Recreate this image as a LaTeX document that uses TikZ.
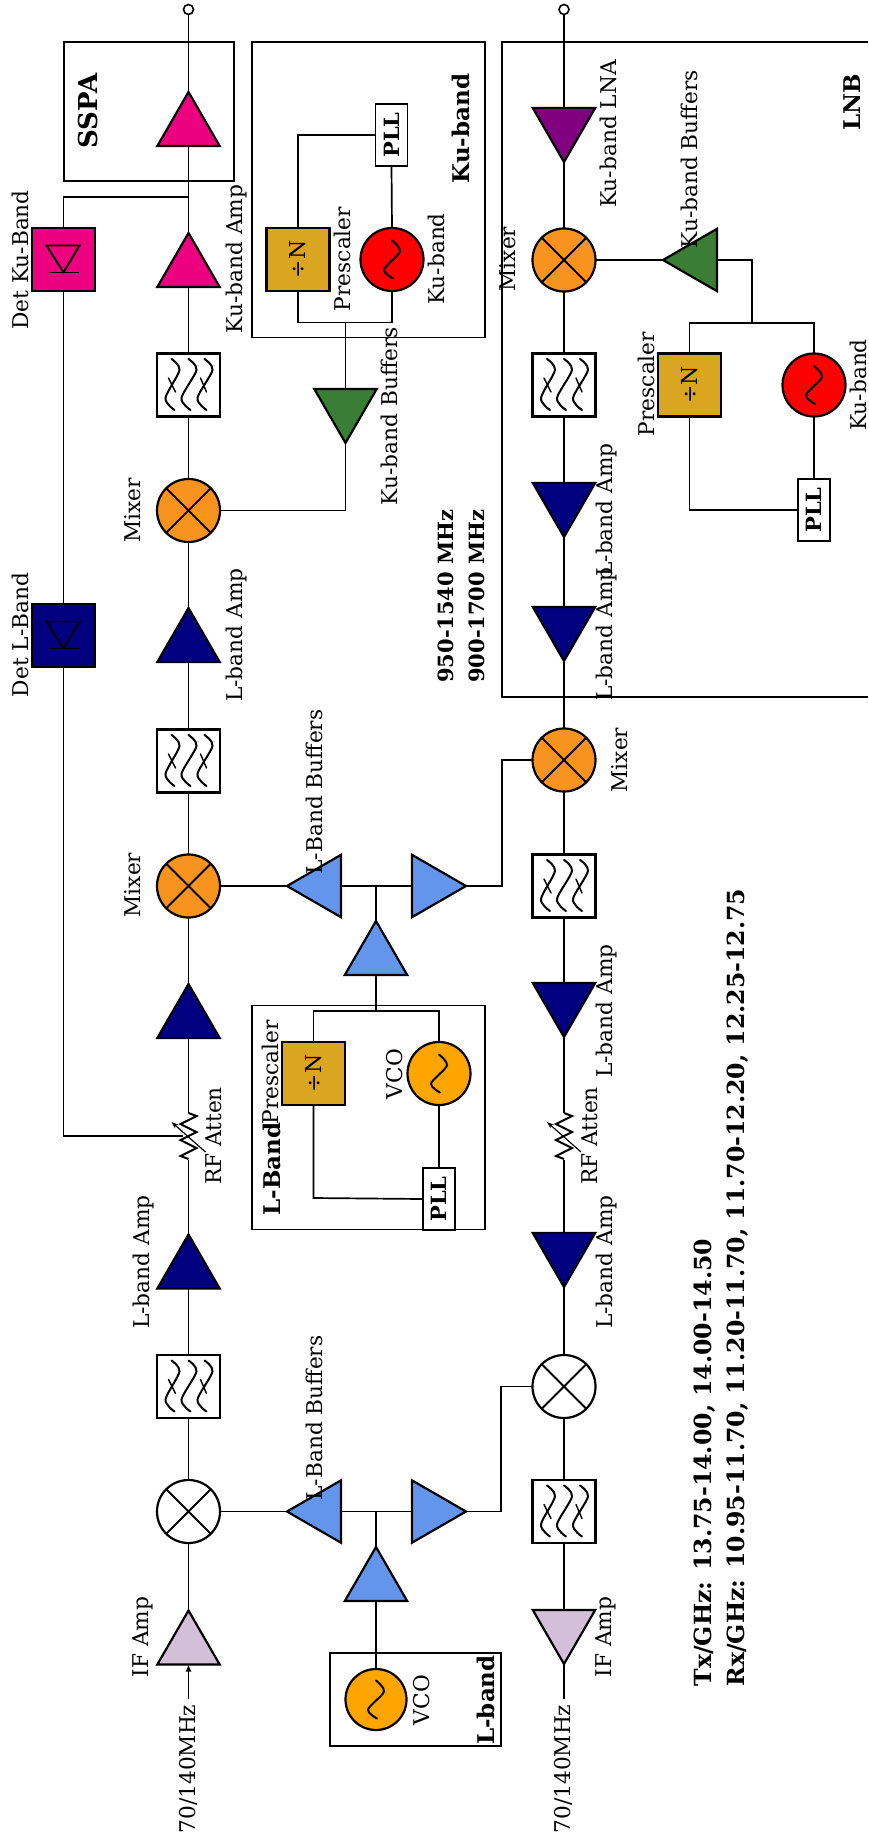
\documentclass[tikz,border=0pt]{standalone}
\usepackage{fontspec}
\usepackage{graphicx}
\setmainfont{DejaVu Serif}
\usetikzlibrary{shapes.geometric,arrows.meta}
\definecolor{cMag}{HTML}{EC0080}
\definecolor{cNavy}{HTML}{000080}
\definecolor{cMix}{HTML}{F7931E}
\definecolor{cGold}{HTML}{DAA520}
\definecolor{cBlue}{HTML}{6495ED}
\definecolor{cGreen}{HTML}{3A7D34}
\definecolor{cThistle}{HTML}{D4BFD8}
\definecolor{cPurple}{HTML}{800080}
\definecolor{cVco}{HTML}{FFA500}
\newcommand{\filtericon}{%
  \begin{scope}[shift={(path picture bounding box.center)},line width=2pt,line cap=round]
    \draw plot[smooth] coordinates {(-17,-26) (-9,-15) (-23,13) (-14,25)};
    \draw plot[smooth] coordinates {(0,-26) (8,-15) (-7,13) (2,25)};
    \draw plot[smooth] coordinates {(16,-26) (24,-15) (9,13) (18,25)};
    \draw[line width=1.4pt] (-20,-7) -- (-13,7);
    \draw[line width=1.4pt] (12,-7) -- (18,7);
  \end{scope}}
\newcommand{\oscicon}{%
  \draw[shift={(path picture bounding box.center)},line width=2pt,line cap=round]
    plot[smooth] coordinates {(0,-19) (8,-8) (-8,10) (1,19)};}
\newcommand{\diodeicon}{%
  \begin{scope}[shift={(path picture bounding box.center)},line width=1.9pt]
    \draw (-17,-14) -- (16,-14) -- (0,13) -- cycle;
    \draw (-15,13) -- (15,13);
  \end{scope}}
\newcommand{\mixicon}{%
  \draw[line width=2pt] (path picture bounding box.north west) -- (path picture bounding box.south east)
    (path picture bounding box.north east) -- (path picture bounding box.south west);}
\tikzset{
  x=1pt,y=-1pt,
  wire/.style={line width=1.7pt,line join=miter},
  frame/.style={draw,line width=1.6pt,fill=none,inner sep=0,outer sep=0},
  amp/.style={regular polygon,regular polygon sides=3,minimum size=72pt,inner sep=0,outer sep=0,draw,line width=2.2pt,fill=#1},
  ampup/.style={amp=#1},
  ampdown/.style={amp=#1,regular polygon rotate=180},
  ampleft/.style={amp=#1,regular polygon rotate=90},
  ampright/.style={amp=#1,regular polygon rotate=-90},
  mixer/.style={circle,minimum size=63pt,inner sep=0,outer sep=0,draw,line width=2.2pt,fill=#1,path picture={\mixicon}},
  osc/.style={circle,minimum size=63pt,inner sep=0,outer sep=0,draw,line width=2.2pt,fill=#1,path picture={\oscicon}},
  filterbox/.style={rectangle,minimum size=63pt,inner sep=0,outer sep=0,draw,line width=2.2pt,fill=white,path picture={\filtericon}},
  detbox/.style={rectangle,minimum size=63pt,inner sep=0,outer sep=0,draw,line width=2.2pt,fill=#1,path picture={\diodeicon}},
  prebox/.style={rectangle,minimum size=63pt,inner sep=0,outer sep=0,draw,line width=2.2pt,fill=cGold,font=\fontsize{22}{22}\selectfont},
  pllbox/.style={rectangle,minimum width=32pt,minimum height=62pt,inner sep=0,outer sep=0,draw,line width=1.6pt,fill=white,font=\fontsize{21}{21}\selectfont\bfseries},
  port/.style={circle,minimum size=10pt,inner sep=0,outer sep=0,draw,line width=1.6pt,fill=white},
  atten/.style={rectangle,minimum width=18pt,minimum height=47pt,inner sep=0,outer sep=0},
  lab/.style={rotate=90,inner sep=0,font=\fontsize{21.7}{24}\selectfont},
  blab/.style={rotate=90,inner sep=0,font=\fontsize{23}{26}\selectfont\bfseries},
  fsleft/.style={rotate=90,inner sep=0,anchor=west,font=\fontsize{#1}{26}\selectfont\bfseries},
}
\newcommand{\attenicon}[1]{%
  \draw[shift={(#1.center)},line width=2pt,line join=miter]
    (0,-23) -- (8,-20) -- (-8,-12) -- (8,-4) -- (-8,4) -- (8,12) -- (-8,20) -- (0,23);
  \draw[shift={(#1.center)},line width=1.2pt,-{Stealth[length=7pt,width=5pt]}] (17,16) -- (-17,-14);}
\begin{document}
\begin{tikzpicture}
\useasboundingbox (0,0) rectangle (868,1841);
% frames
\node[frame,minimum width=170pt,minimum height=139pt] (fSSPA) at (149,111.5) {};
\node[frame,minimum width=233pt,minimum height=295.5pt] (fKu) at (368.5,189.75) {};
\node[frame,minimum width=233pt,minimum height=224pt] (fLb) at (368.5,1117.5) {};
\node[frame,minimum width=170.5pt,minimum height=93pt] (fLc) at (415.5,1699.5) {};
\coordinate (lnbTL) at (868,42);
\coordinate (lnbA) at (502,42);
\coordinate (lnbB) at (502,697);
\coordinate (lnbBR) at (868,697);
\draw[wire] (lnbTL) -- (lnbA) -- (lnbB) -- (lnbBR);

% column 1
\node[port] (txOut) at (188.5,9.5) {};
\node[ampup=cMag] (a1) at (188.5,128) {};
\node[ampup=cMag] (a2) at (188.5,269) {};
\node[filterbox] (f1) at (188.5,385) {};
\node[mixer=cMix] (m1) at (188.5,510.5) {};
\node[ampup=cNavy] (a3) at (188.5,644) {};
\node[filterbox] (f2) at (188.5,761) {};
\node[mixer=cMix] (m2) at (188.5,886) {};
\node[ampup=cNavy] (a4) at (188.5,1020) {};
\node[atten] (at1) at (188.5,1136) {};
\node[ampup=cNavy] (a5) at (188.5,1270.5) {};
\node[filterbox] (f3) at (188.5,1386.5) {};
\node[mixer=white] (m3) at (188.5,1511.5) {};
\node[ampup=cThistle] (a6) at (188.5,1646.5) {};
\coordinate (txIn) at (188.5,1699);
\draw[wire] (txOut) -- (a1.corner 1) (a1.side 2) -- (a2.corner 1) (a2.side 2) -- (f1) -- (m1) -- (a3.corner 1)
  (a3.side 2) -- (f2) -- (m2) -- (a4.corner 1) (a4.side 2) -- (at1.north) (at1.south) -- (a5.corner 1)
  (a5.side 2) -- (f3) -- (m3) -- (a6.corner 1);
\draw[wire,-{Latex[length=7pt,width=6pt]}] (txIn) -- (a6.side 2);
\attenicon{at1}

% detectors
\node[detbox=cMag] (d1) at (63.5,259.5) {};
\node[detbox=cNavy,path picture={}] (d2) at (63.5,635.5) {};
\begin{scope}[shift={(d2.center)},line width=1.9pt]
  \draw (-17,-14) -- (16,-14) -- (0,13) -- cycle;
  \draw (-15,13) -- (15,13);
\end{scope}
\coordinate (tap) at (188.5,197);
\coordinate (tapL) at (63.5,197);
\coordinate (ctlC) at (63.5,1136);
\coordinate (ctlE) at (183,1136);
\draw[wire] (tap) -- (tapL) -- (d1) -- (d2) -- (ctlC) -- (ctlE);

% Ku-band synth (tx)
\node[prebox] (p1) at (298,259.5) {\rotatebox{90}{÷N}};
\node[osc=red] (o1) at (392,259.5) {};
\node[pllbox] (pll1) at (391.5,135) {\rotatebox{90}{PLL}};
\node[ampdown=cGreen] (g1) at (345.5,407) {};
\coordinate (k1) at (298,322.5);
\coordinate (k2) at (392,322.5);
\coordinate (k3) at (345.5,322.5);
\coordinate (k4) at (298,135);
\draw[wire] (p1.south) -- (k1) -- (k2) -- (o1.south);
\draw[wire] (k3) -- (g1.side 2);
\draw[wire] (g1.corner 1) |- (m1.east);
\draw[wire] (p1.north) -- (k4) -- (pll1.west);
\draw[wire] (o1.north) -- (pll1.south);

% L-band synth tx/rx split
\node[ampleft=cBlue] (b1) at (323,886) {};
\node[ampright=cBlue] (b2) at (430,886) {};
\node[ampup=cBlue] (b3) at (376,957) {};
\coordinate (j1) at (376,886);
\coordinate (j2) at (376,1011);
\draw[wire] (m2.east) -- (b1.corner 1);
\draw[wire] (b1.side 2) -- (b2.side 2);
\draw[wire] (j1) -- (b3.corner 1);
\draw[wire] (b3.side 2) -- (j2);
\node[prebox] (p2) at (313.5,1073.5) {\rotatebox{90}{÷N}};
\node[osc=cVco] (o2) at (439,1073.5) {};
\node[pllbox] (pll2) at (439,1199) {\rotatebox{90}{PLL}};
\coordinate (l1) at (313.5,1011);
\coordinate (l2) at (439,1011);
\coordinate (l3) at (313.5,1198);
\draw[wire] (p2.north) -- (l1) -- (l2) -- (o2.north);
\draw[wire] (p2.south) -- (l3) -- (pll2.west);
\draw[wire] (o2.south) -- (pll2.north);

% first L-band
\node[ampleft=cBlue] (b4) at (323,1511.5) {};
\node[ampright=cBlue] (b5) at (430,1511.5) {};
\node[ampup=cBlue] (b6) at (376,1583) {};
\node[osc=cVco,minimum size=61pt] (o3) at (376,1699.5) {};
\coordinate (j3) at (376,1511.5);
\draw[wire] (m3.east) -- (b4.corner 1);
\draw[wire] (b4.side 2) -- (b5.side 2);
\draw[wire] (j3) -- (b6.corner 1);
\draw[wire] (b6.side 2) -- (o3);

% column 2
\node[port] (rxIn) at (564,9.5) {};
\node[ampdown=cPurple] (r1) at (564,126) {};
\node[mixer=cMix] (r2) at (564,260) {};
\node[filterbox] (r3) at (564,385) {};
\node[ampdown=cNavy] (r4) at (564,501) {};
\node[ampdown=cNavy] (r5) at (564,625) {};
\node[mixer=cMix] (r6) at (564,760) {};
\node[filterbox] (r7) at (564,886) {};
\node[ampdown=cNavy] (r8) at (564,1001) {};
\node[atten] (at2) at (564,1136) {};
\node[ampdown=cNavy] (r9) at (564,1251) {};
\node[mixer=white] (r10) at (564,1386.5) {};
\node[filterbox] (r11) at (564,1511.5) {};
\node[ampdown=cThistle] (r12) at (564,1628) {};
\coordinate (rxOut) at (564,1699);
\draw[wire] (rxIn) -- (r1.side 2) (r1.corner 1) -- (r2) -- (r3) -- (r4.side 2) (r4.corner 1) -- (r5.side 2)
  (r5.corner 1) -- (r6) -- (r7) -- (r8.side 2) (r8.corner 1) -- (at2.north) (at2.south) -- (r9.side 2)
  (r9.corner 1) -- (r10) -- (r11) -- (r12.side 2) (r12.corner 1) -- (rxOut);
\attenicon{at2}
\coordinate (x1) at (502,886);
\coordinate (x2) at (502,760);
\draw[wire] (b2.corner 1) -- (x1) -- (x2) -- (r6.west);
\coordinate (x3) at (501,1511.5);
\coordinate (x4) at (501,1386.5);
\draw[wire] (b5.corner 1) -- (x3) -- (x4) -- (r10.west);

% LNB synth
\node[ampleft=cGreen] (g2) at (699,260) {};
\node[prebox] (p3) at (689.5,385) {\rotatebox{90}{÷N}};
\node[osc=red] (o4) at (814,385) {};
\node[pllbox] (pll3) at (814,510) {\rotatebox{90}{PLL}};
\coordinate (q1) at (752,260);
\coordinate (q2) at (752,323);
\coordinate (q3) at (689.5,323);
\coordinate (q4) at (814,323);
\coordinate (q5) at (689.5,510);
\draw[wire] (r2.east) -- (g2.corner 1);
\draw[wire] (g2.side 2) -- (q1) -- (q2);
\draw[wire] (p3.north) -- (q3) -- (q4) -- (o4.north);
\draw[wire] (p3.south) -- (q5) -- (pll3.west);
\draw[wire] (o4.south) -- (pll3.north);

% labels
\node[blab,font=\fontsize{26}{28}\selectfont\bfseries] (tSSPA) at (88,111) {SSPA};
\node[lab] (t1) at (20,260) {Det Ku-Band};
\node[lab] (t2) at (236.5,259) {Ku-band Amp};
\node[lab] (t3) at (342,259) {Prescaler};
\node[lab] (t4) at (436,259) {Ku-band};
\node[blab] (t5) at (461,128.5) {Ku-band};
\node[lab] (t6) at (389,416) {Ku-band Buffers};
\node[lab] (t7) at (133,510.5) {Mixer};
\node[lab] (t8) at (20,635) {Det L-Band};
\node[lab] (t9) at (237,635) {L-band Amp};
\node[lab] (t10) at (133,885) {Mixer};
\node[lab] (t11) at (314,792) {L-Band Buffers};
\node[lab] (t12) at (270,1072) {Prescaler};
\node[blab] (t13) at (272,1169) {L-Band};
\node[lab] (t14) at (395,1074) {VCO};
\node[lab] (t15) at (214,1136) {RF Atten};
\node[lab] (t16) at (143.5,1262) {L-band Amp};
\node[lab] (t17) at (143,1637) {IF Amp};
\node[lab] (t18) at (188,1769) {70/140MHz};
\node[lab] (t19) at (314,1418) {L-Band Buffers};
\node[lab] (t20) at (422,1700) {VCO};
\node[blab] (t21) at (486,1700) {L-band};
\node[lab] (t22) at (608,134) {Ku-band LNA};
\node[lab] (t23) at (689,159.5) {Ku-band Buffers};
\node[blab] (t24) at (852,102) {LNB};
\node[lab] (t25) at (508,259) {Mixer};
\node[lab] (t26) at (646,384) {Prescaler};
\node[lab] (t27) at (858,385) {Ku-band};
\node[lab] (t28) at (607,510) {L-band Amp};
\node[lab] (t29) at (607,634) {L-band Amp};
\node[lab] (t30) at (620,760) {Mixer};
\node[lab] (t31) at (607,1011) {L-band Amp};
\node[lab] (t32) at (590,1136) {RF Atten};
\node[lab] (t33) at (607,1262) {L-band Amp};
\node[lab] (t34) at (606,1637) {IF Amp};
\node[lab] (t35) at (563,1769) {70/140MHz};
\node[fsleft=21] (t36) at (446,683) {950-1540 MHz};
\node[fsleft=21] (t37) at (477,683) {900-1700 MHz};
\node[fsleft=23.6] (t38) at (705,1686.5) {Tx/GHz: 13.75-14.00, 14.00-14.50};
\node[fsleft=23.6] (t39) at (738,1686.5) {Rx/GHz: 10.95-11.70, 11.20-11.70, 11.70-12.20, 12.25-12.75};
\end{tikzpicture}
\end{document}
